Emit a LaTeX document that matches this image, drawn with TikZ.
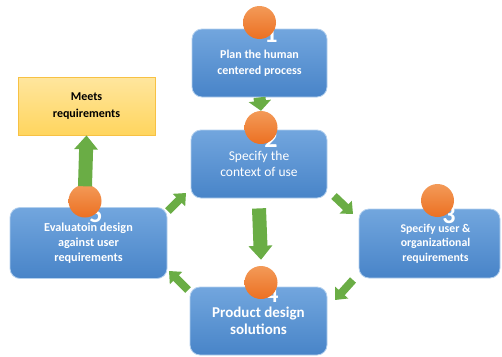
\documentclass[tikz,border=0pt]{standalone}
\usepackage{fontspec}
\setmainfont{Carlito}
\usetikzlibrary{arrows.meta,shapes.geometric}
\definecolor{boxtop}{HTML}{72A6DE}
\definecolor{boxbot}{HTML}{4884C8}
\definecolor{boxline}{HTML}{B3D0EE}
\definecolor{orgtop}{HTML}{F39A58}
\definecolor{orgbot}{HTML}{EC7022}
\definecolor{grn}{HTML}{6AAD45}
\definecolor{yeltop}{HTML}{FFE69E}
\definecolor{yelbot}{HTML}{FFD55E}
\definecolor{yelline}{HTML}{F7C144}
\tikzset{
  bluebox/.style={draw=boxline, line width=0.8pt, rounded corners=10pt,
    top color=boxtop, bottom color=boxbot, text=white, align=center, inner sep=2pt},
  badge/.style={circle, minimum size=33pt, inner sep=0pt, top color=orgtop, bottom color=orgbot},
  digit/.style={text=white, font=\fontsize{26}{26}\selectfont\bfseries, anchor=base, inner sep=0pt},
  bigarrow/.style={draw=grn, line width=14pt, -{Triangle[width=23pt,length=14pt]}},
  smallarrow/.style={draw=grn, line width=12pt, -{Triangle[width=22pt,length=10pt]}},
  diagarrow/.style={draw=grn, line width=8pt, -{Triangle[width=17pt,length=10pt]}},
}
\begin{document}
\begin{tikzpicture}[x=1pt,y=-1pt]
\useasboundingbox (0,0) rectangle (502,356);
% boxes
\node[bluebox, minimum width=135pt, minimum height=68pt, font=\fontsize{12}{16}\selectfont\bfseries] (b1) at (259.5,63) {Plan the human\\centered process};
\node[bluebox, minimum width=136pt, minimum height=68pt, font=\fontsize{13.5}{16}\selectfont] (b2) at (259,164) {Specify the\\context of use};
\node[bluebox, minimum width=141pt, minimum height=69pt, font=\fontsize{11.8}{14.5}\selectfont\bfseries] (b3) at (429.5,243.5) {\hspace*{12pt}Specify user \&\\\hspace*{12pt}organizational\\\hspace*{12pt}requirements};
\node[bluebox, minimum width=137pt, minimum height=68pt, font=\fontsize{15}{17}\selectfont\bfseries] (b4) at (258.5,321) {Product design\\solutions};
\node[bluebox, minimum width=157pt, minimum height=71pt, font=\fontsize{12.2}{15}\selectfont\bfseries] (b5) at (88.5,243) {Evaluatoin design\\against user\\requirements};
\node[draw=yelline, line width=0.8pt, top color=yeltop, bottom color=yelbot, minimum width=137pt, minimum height=58pt, align=center, font=\fontsize{12}{17}\selectfont\bfseries] (m) at (86.5,106) {Meets\\requirements};
% digits and badges
\node[digit] (d1) at (271,42) {1};
\node[badge] (c1) at (259.5,22.5) {};
\node[digit] (d2) at (271,147) {2};
\node[badge] (c2) at (261,127.5) {};
\node[digit] (d3) at (449,223) {3};
\node[badge] (c3) at (437.5,200.5) {};
\node[digit] (d4) at (272,302) {4};
\node[badge] (c4) at (261,282.5) {};
\node[digit] (d5) at (96,222) {5};
\node[badge] (c5) at (85,201) {};
% vertical arrows
\draw[smallarrow] (b1.south) -- (c2.north);
\draw[bigarrow] ([yshift=-10pt]b2.south) -- ([yshift=6pt]c4.north);
\draw[bigarrow] ([yshift=-2pt]c5.north) -- (m.south);
% diagonal arrows
\coordinate (ne1) at (168,211); \coordinate (ne2) at (186,193);
\coordinate (se1) at (334,196); \coordinate (se2) at (353,214);
\coordinate (sw1) at (353,280); \coordinate (sw2) at (335,300);
\coordinate (nw1) at (188,290); \coordinate (nw2) at (169,271);
\draw[diagarrow] (ne1) -- (ne2);
\draw[diagarrow] (se1) -- (se2);
\draw[diagarrow] (sw1) -- (sw2);
\draw[diagarrow] (nw1) -- (nw2);
\end{tikzpicture}
\end{document}
